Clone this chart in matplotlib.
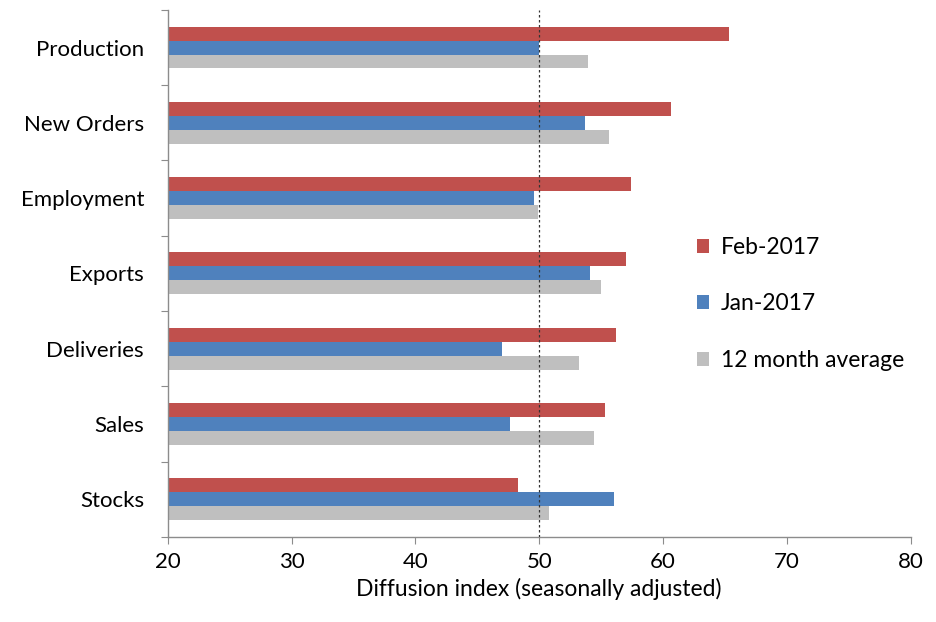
import matplotlib.pyplot as plt
import numpy as np

# Data
categories = ['Production', 'New Orders', 'Employment', 'Exports', 'Deliveries', 'Sales', 'Stocks']
feb_2017 = [65.3, 60.6, 57.4, 57.0, 56.2, 55.3, 48.3]
jan_2017 = [50.0, 53.7, 49.6, 54.1, 47.0, 47.6, 56.0]
avg_12m = [53.9, 55.6, 49.9, 55.0, 53.2, 54.4, 50.8]
xticks = [20, 30, 40, 50, 60, 70, 80]

plt.rcParams['font.family'] = ['Lato', 'DejaVu Sans']

fig = plt.figure(figsize=(9.37, 6.22), dpi=100)
ax = fig.add_axes([0.179, 0.137, 0.793, 0.847])

n = len(categories)
pos = np.arange(n)[::-1]  # Production at top
h = 0.185

ax.barh(pos + h, feb_2017, height=h, left=0, color='#C0504D', label='Feb-2017')
ax.barh(pos, jan_2017, height=h, left=0, color='#4F81BD', label='Jan-2017')
ax.barh(pos - h, avg_12m, height=h, left=0, color='#BFBFBF', label='12 month average')

ax.axvline(50, color='#333333', linestyle=(0, (2, 2)), linewidth=0.9, zorder=3)

ax.set_xlim(20, 80)
ax.set_ylim(-0.5, n - 0.5)
ax.set_xticks(xticks)
ax.set_xticklabels([str(x) for x in xticks], fontsize=16)
ax.tick_params(axis='x', length=5, color='#8C8C8C', pad=6)

# category labels on minor ticks, boundaries on major ticks
ax.set_yticks(np.arange(-0.5, n, 1.0))
ax.set_yticklabels([])
ax.tick_params(axis='y', which='major', length=5, color='#8C8C8C')
ax.set_yticks(pos, minor=True)
ax.set_yticklabels(categories, minor=True, fontsize=16)
ax.tick_params(axis='y', which='minor', length=0, pad=17)

ax.set_xlabel('Diffusion index (seasonally adjusted)', fontsize=16.5, labelpad=4)

for s in ['top', 'right']:
    ax.spines[s].set_visible(False)
for s in ['left', 'bottom']:
    ax.spines[s].set_color('#8C8C8C')
    ax.spines[s].set_linewidth(1.0)

leg = ax.legend(loc='center left', bbox_to_anchor=(0.684, 0.442), frameon=False,
                fontsize=16.5, handlelength=0.55, handleheight=0.55, handletextpad=0.5,
                labelspacing=1.55)

fig.savefig('out.png', dpi=100)
